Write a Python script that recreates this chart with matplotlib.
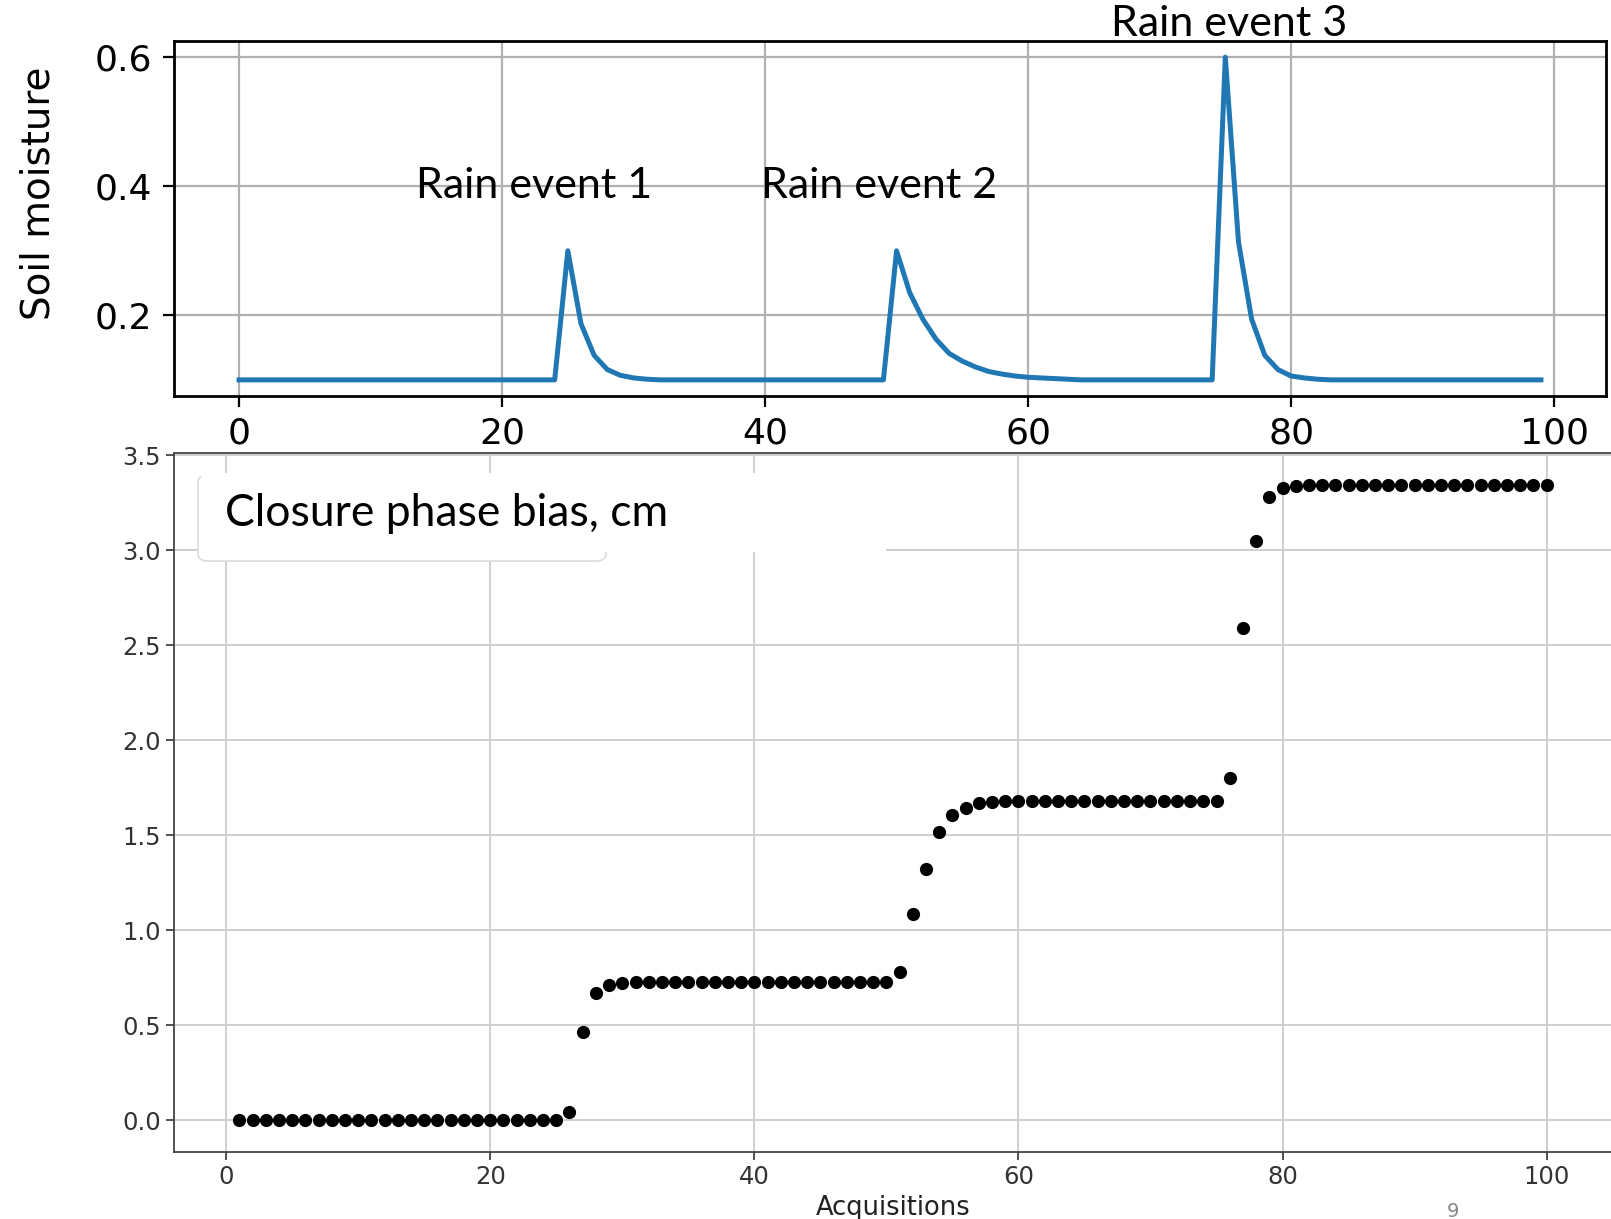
import numpy as np
import matplotlib.pyplot as plt
from matplotlib.patches import FancyBboxPatch, Rectangle

# soil moisture model output (top panel)
sm_x = np.arange(0, 100)
sm_base = 0.1
sm_events = {
    25: [0.300, 0.187, 0.138, 0.116, 0.107, 0.103, 0.101],
    50: [0.300, 0.235, 0.194, 0.163, 0.141, 0.129, 0.120, 0.113, 0.109, 0.106,
         0.104, 0.103, 0.102, 0.101],
    75: [0.600, 0.314, 0.194, 0.138, 0.116, 0.106, 0.103, 0.101],
}
rain_labels = ['Rain event 1', 'Rain event 2', 'Rain event 3']

# closure phase bias (bottom panel)
acq = np.arange(1, 101)
bias_flat = [0.0, 0.725, 1.683, 3.345]
bias_steps = {
    26: [0.044, 0.467, 0.670, 0.714, 0.721],
    51: [0.778, 1.084, 1.320, 1.518, 1.607, 1.642, 1.668, 1.677],
    76: [1.803, 2.593, 3.049, 3.280, 3.330, 3.339],
}

sm = np.full(len(sm_x), sm_base)
for start, vals in sm_events.items():
    sm[start:start + len(vals)] = vals

bias = np.zeros(len(acq))
bias[25:] = bias_flat[1]
bias[50:] = bias_flat[2]
bias[75:] = bias_flat[3]
for start, vals in bias_steps.items():
    bias[start - 1:start - 1 + len(vals)] = vals

W, H = 1611, 1219
fig = plt.figure(figsize=(W / 100, H / 100), dpi=100)


def px_axes(left, top, right, bottom):
    return fig.add_axes([left / W, 1 - bottom / H, (right - left) / W, (bottom - top) / H])


# ---- top panel
ax1 = px_axes(174, 41, 1606, 396)
ax1.plot(sm_x, sm, color='#1f77b4', lw=3.6)
ax1.set_yticks([0.2, 0.4, 0.6])
ax1.set_xticks([0, 20, 40, 60, 80, 100])
ax1.grid(True, color='#b0b0b0', lw=1.6)
for s in ax1.spines.values():
    s.set_linewidth(2.0)
    s.set_color('black')
ax1.tick_params(labelsize=26, length=8, width=1.6)
ax1.tick_params(axis='x', pad=7)
ax1.tick_params(axis='y', pad=8)
fig.text(39 / W, 1 - 193 / H, 'Soil moisture', fontsize=28, rotation=90,
         ha='center', va='center')

ax1.text(22.4, 0.4, rain_labels[0], fontsize=31, family='Lato', ha='center', va='center')
ax1.text(48.7, 0.4, rain_labels[1], fontsize=31, family='Lato', ha='center', va='center')
ax1.text(75.3, 0.652, rain_labels[2], fontsize=31, family='Lato', ha='center', va='center',
         clip_on=False)

# ---- bottom panel
ax2 = px_axes(174, 453, 1612, 1152)
ax2.scatter(acq, bias, s=72, color='black', zorder=3)
ax2.set_xticks([0, 20, 40, 60, 80, 100])
ax2.set_yticks(np.arange(0, 3.51, 0.5))
ax2.grid(True, color='#cccccc', lw=1.3)
ax2.set_axisbelow(True)
for s in ax2.spines.values():
    s.set_linewidth(1.3)
    s.set_color('#444444')
ax2.tick_params(labelsize=17.5, length=6, width=1.2, colors='#333333')
ax2.set_xlabel('Acquisitions', fontsize=18.5, labelpad=4, color='#222222')

# legend-like label box, partly covered by a white slide shape
legend_box = FancyBboxPatch((198 / W, 1 - 561 / H), (606 - 198) / W, (561 - 475) / H,
                            boxstyle='round,pad=0,rounding_size=0.006',
                            transform=fig.transFigure, facecolor='white',
                            edgecolor='#dddddd', lw=1.3, zorder=5)
fig.patches.append(legend_box)
cover = Rectangle((201 / W, 1 - 552 / H), (886 - 201) / W, (552 - 473) / H,
                  transform=fig.transFigure, facecolor='white', edgecolor='none', zorder=6)
fig.patches.append(cover)
fig.text(225 / W, 1 - 514 / H, 'Closure phase bias, cm', fontsize=32, family='Lato',
         va='center', ha='left', zorder=7)

# slide number
fig.text(1453 / W, 1 - 1202 / H, '9', fontsize=14, color='#888888',
         ha='center', va='top')

fig.savefig('out.png', dpi=100)
